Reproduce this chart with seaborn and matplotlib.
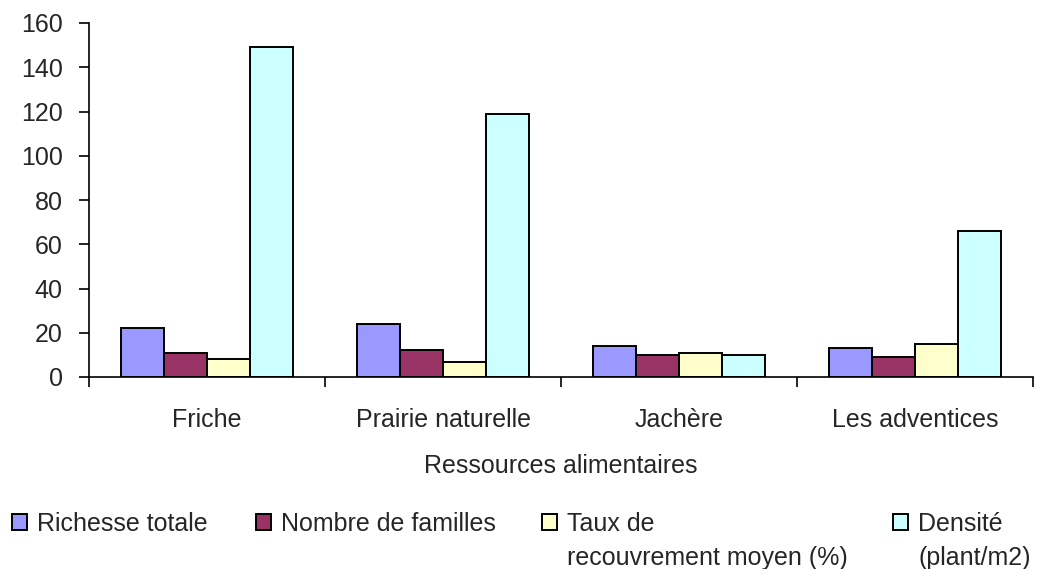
import numpy as np
import pandas as pd
import matplotlib
matplotlib.use("Agg")
import matplotlib.pyplot as plt
import seaborn as sns

# donnees
ressources = ["Friche", "Prairie naturelle", "Jachère", "Les adventices"]
richesse_totale = [22, 24, 14, 13]
nombre_familles = [11, 12, 10, 9]
taux_recouvrement = [8, 7, 11, 15]
densite = [149, 119, 10, 66]

series = ["Richesse totale", "Nombre de familles",
          "Taux de recouvrement moyen (%)", "Densité (plant/m2)"]
legend_lines = [("Richesse totale", None),
                ("Nombre de familles", None),
                ("Taux de", "recouvrement moyen (%)"),
                ("Densité", "(plant/m2)")]
colors = ["#9999FF", "#993366", "#FFFFCC", "#CCFFFF"]

yticks = list(range(0, 161, 20))

W, H = 1042, 569


def build_frame():
    df = pd.DataFrame({
        "Ressource": ressources,
        series[0]: richesse_totale,
        series[1]: nombre_familles,
        series[2]: taux_recouvrement,
        series[3]: densite,
    })
    return df.melt(id_vars="Ressource", var_name="Variable", value_name="Valeur")


def main():
    sns.set_style("white")
    plt.rcParams["font.family"] = ["Liberation Sans", "DejaVu Sans"]
    fs = 18

    fig = plt.figure(figsize=(W / 100, H / 100), dpi=100)
    ax = fig.add_axes([89 / W, 1 - 377 / H, (1033 - 89) / W, (377 - 23) / H])

    df = build_frame()
    sns.barplot(
        data=df, x="Ressource", y="Valeur", hue="Variable",
        order=ressources, hue_order=series, palette=colors,
        saturation=1, width=0.73, edgecolor="black", linewidth=1.4,
        ax=ax,
    )
    handles, _ = ax.get_legend_handles_labels()
    if ax.get_legend() is not None:
        ax.get_legend().remove()

    ax.set_xlim(-0.5, len(ressources) - 0.5)
    ax.set_ylim(0, 160)
    ax.set_yticks(yticks)
    ax.set_yticklabels([str(v) for v in yticks], fontsize=fs)

    ax.set_xticks(range(len(ressources)))
    ax.set_xticklabels(ressources, fontsize=fs)
    ax.set_xticks(np.arange(-0.5, len(ressources)), minor=True)
    ax.tick_params(axis="x", which="major", length=0, pad=22)
    ax.tick_params(axis="x", which="minor", length=7, width=1.2,
                   direction="out", color="black", bottom=True)
    ax.tick_params(axis="y", which="major", length=7, width=1.2,
                   direction="out", color="black", pad=12, left=True)

    ax.set_xlabel("Ressources alimentaires", fontsize=fs, labelpad=16)
    ax.set_ylabel("")

    sns.despine(ax=ax)
    for side in ["left", "bottom"]:
        ax.spines[side].set_color("black")
        ax.spines[side].set_linewidth(1.2)

    # legende : une entree par bloc, seconde ligne en texte libre
    marker_x = [12, 256, 542, 893]
    row1_y = 1 - 524 / H
    row2_y = 1 - 558 / H
    for hnd, (first, second), mx in zip(handles, legend_lines, marker_x):
        leg = fig.legend(
            [hnd], [first], loc="center left",
            bbox_to_anchor=(mx / W, row1_y), bbox_transform=fig.transFigure,
            frameon=False, fontsize=fs, borderpad=0, borderaxespad=0,
            handlelength=0.6, handleheight=0.6, handletextpad=0.4,
        )
        for p in leg.get_patches():
            p.set_edgecolor("black")
            p.set_linewidth(1.4)
        if second:
            fig.text((mx + 25) / W, row2_y, second, fontsize=fs,
                     ha="left", va="center")

    fig.savefig("out.png", dpi=100)
    plt.close(fig)


if __name__ == "__main__":
    main()
